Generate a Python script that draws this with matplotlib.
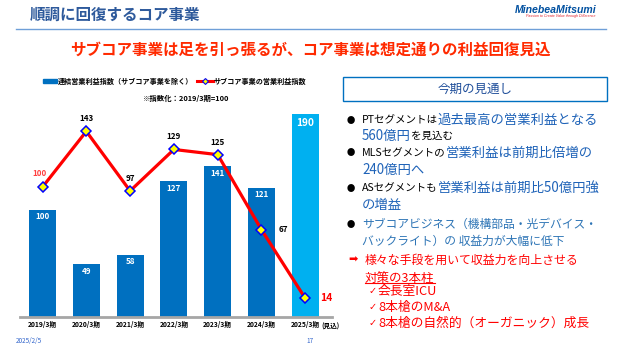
import matplotlib
matplotlib.use('Agg')
import matplotlib.pyplot as plt
from matplotlib.lines import Line2D
from matplotlib.patches import Rectangle

plt.rcParams['font.family'] = ['Noto Sans CJK JP', 'DejaVu Sans']

# ---------------- data ----------------
periods = ['2019/3期', '2020/3期', '2021/3期', '2022/3期', '2023/3期', '2024/3期', '2025/3期']
core_index = [100, 49, 58, 127, 141, 121, 190]        # 連結営業利益指数（サブコア事業を除く）
subcore_index = [100, 143, 97, 129, 125, 67, 14]       # サブコア事業の営業利益指数
forecast_note = '(見込)'
legend_labels = ['連結営業利益指数（サブコア事業を除く）', 'サブコア事業の営業利益指数']
index_note = '※指数化：2019/3期=100'

title = '順調に回復するコア事業'
subtitle = 'サブコア事業は足を引っ張るが、コア事業は想定通りの利益回復見込'
box_title = '今期の見通し'
footer_date = '2025/2/5'
page_no = '17'

# ---------------- figure ----------------
W, H = 622, 350
fig = plt.figure(figsize=(W / 100, H / 100), dpi=100)
fig.patch.set_facecolor('white')


def fx(x):
    return x / W


def fy(y):
    return 1 - y / H


# ---------------- chart ----------------
ax = fig.add_axes([fx(20), fy(316.5), fx(332) - fx(20), (316.5 - 100) / H])
xs = list(range(len(periods)))
bar_colors = ['#0070C0'] * (len(periods) - 1) + ['#00B0F0']
ax.bar(xs, core_index, width=0.62, color=bar_colors, zorder=2)
ax.set_xlim(-0.514, 6.61)
ax.set_ylim(0, 203.3)
for s in ['top', 'left', 'right']:
    ax.spines[s].set_visible(False)
ax.spines['bottom'].set_color('#A6A6A6')
ax.spines['bottom'].set_linewidth(2)
ax.set_yticks([])
ax.set_xticks(xs, periods, fontsize=4.8, fontweight='bold')
ax.tick_params(axis='x', length=0, pad=3.2)

for i, v in enumerate(core_index):
    last = i == len(core_index) - 1
    ax.annotate(str(v), xy=(i, v), xytext=(0, -6.5 if last else -5), textcoords='offset points',
                ha='center', va='center', color='white', fontweight='bold',
                fontsize=7.3 if last else 5.8, zorder=3)

ax.annotate(forecast_note, xy=(6, 0), xytext=(11.5, -7), textcoords='offset points',
            ha='left', va='center', fontsize=4.8, fontweight='bold', annotation_clip=False)

ax2 = ax.twinx()
ax2.set_ylim(0, 167.2)
ax2.set_yticks([])
for s in ax2.spines.values():
    s.set_visible(False)
ax2.plot(xs, subcore_index, color='#FF0000', lw=2.3, marker='D', ms=5,
         mfc='#FFFF00', mec='#0000FF', mew=1.1, zorder=4, clip_on=False)
for i, v in enumerate(subcore_index):
    if i == 0:
        ax2.annotate(str(v), xy=(i, v), xytext=(-2, 10), textcoords='offset points',
                     ha='center', va='center', fontsize=5.8, fontweight='bold', color='#FF4040')
    elif i < len(subcore_index) - 2:
        ax2.annotate(str(v), xy=(i, v), xytext=(0, 9), textcoords='offset points',
                     ha='center', va='center', fontsize=5.8, fontweight='bold', color='black')
    elif i == len(subcore_index) - 2:
        ax2.annotate(str(v), xy=(i, v), xytext=(12, 0), textcoords='offset points',
                     ha='left', va='center', fontsize=5.8, fontweight='bold', color='black')
    else:
        ax2.annotate(str(v), xy=(i, v), xytext=(11, 0), textcoords='offset points',
                     ha='left', va='center', fontsize=7.5, fontweight='bold', color='#FF0000',
                     annotation_clip=False)

# legend (manual)
fig.add_artist(Rectangle((fx(43), fy(83)), fx(56.7) - fx(43), 4 / H, transform=fig.transFigure,
                         color='#0070C0'))
fig.text(fx(57.5), fy(81), legend_labels[0], fontsize=5.1, fontweight='bold', va='center', ha='left')
fig.add_artist(Line2D([fx(197), fx(213)], [fy(81), fy(81)], transform=fig.transFigure,
                      color='#FF0000', lw=2.2))
fig.add_artist(Line2D([fx(205)], [fy(81)], transform=fig.transFigure, marker='D', ms=3,
                      mfc='#FFFF00', mec='#0000FF', mew=0.8, lw=0))
fig.text(fx(213.5), fy(81), legend_labels[1], fontsize=5.1, fontweight='bold', va='center', ha='left')
fig.text(fx(186.5), fy(98.5), index_note, fontsize=5.3, fontweight='bold', va='center', ha='center')

# ---------------- header ----------------
fig.text(fx(30), fy(15), title, fontsize=11.2, fontweight='bold', color='#2E5A9C', va='center', ha='left')
fig.add_artist(Line2D([fx(16), fx(606)], [fy(29), fy(29)], transform=fig.transFigure,
                      color='#6F9FD8', lw=1))
fig.text(fx(596), fy(10), 'MinebeaMitsumi', fontsize=7.6, fontweight='bold', style='italic',
         color='#0050A0', va='center', ha='right', family='Liberation Sans')
fig.text(fx(596), fy(16.5), 'Passion to Create Value through Difference', fontsize=2.6,
         color='#E0202A', va='center', ha='right', family='Liberation Sans', style='italic')
fig.text(fx(310.5), fy(50), subtitle, fontsize=11.2, fontweight='bold', color='#FF2A00',
         va='center', ha='center')

# ---------------- right panel ----------------
fig.add_artist(Rectangle((fx(343), fy(101)), fx(607) - fx(343), 24 / H, transform=fig.transFigure,
                         fill=False, edgecolor='#0070C0', lw=1))
fig.text(fx(475), fy(89), box_title, fontsize=9, color='#1F4E9A', va='center', ha='center')

renderer = fig.canvas.get_renderer()
BLUE = '#1F63B8'
BLUE2 = '#2E75B6'
RED = '#FF0000'


def seg_line(x0, y, segments):
    x = x0
    texts = []
    for text, size, color in segments:
        t = fig.text(fx(x), fy(y), text, fontsize=size, color=color, va='center', ha='left')
        bb = t.get_window_extent(renderer)
        x += bb.width
        texts.append(t)
    return texts


def bullet(y):
    fig.text(fx(351), fy(y), '●', fontsize=6, color='black', va='center', ha='center')


bullet(120)
seg_line(362, 120, [('PTセグメントは', 7.6, 'black'), ('過去最高の営業利益となる', 9.6, BLUE)])
seg_line(362, 136, [('560億円', 9.6, BLUE), ('を見込む', 7.6, 'black')])
bullet(153)
seg_line(362, 153, [('MLSセグメントの', 7.6, 'black'), ('営業利益は前期比倍増の', 9.6, BLUE)])
seg_line(362, 169.5, [('240億円へ', 9.6, BLUE)])
bullet(188)
seg_line(362, 188, [('ASセグメントも', 7.6, 'black'), ('営業利益は前期比50億円強', 9.6, BLUE)])
seg_line(362, 205, [('の増益', 9.6, BLUE)])
bullet(224)
seg_line(362, 224, [('サブコアビジネス（機構部品・光デバイス・', 8.5, BLUE2)])
seg_line(362, 241, [('バックライト）の 収益力が大幅に低下', 8.5, BLUE2)])

fig.text(fx(353), fy(260), '➡', fontsize=8, color=RED, va='center', ha='center',
         family=['DejaVu Sans'])
seg_line(365, 260, [('様々な手段を用いて収益力を向上させる', 8.6, RED)])
t = seg_line(365, 278, [('対策の3本柱', 9, RED)])[0]
bb = t.get_window_extent(renderer)
fig.add_artist(Line2D([bb.x0 / W, bb.x1 / W], [(bb.y0 + 1.5) / H, (bb.y0 + 1.5) / H],
                      transform=fig.transFigure, color=RED, lw=0.8))
for yy, txt in [(291, '会長室ICU'), (307, '8本槍のM&A'), (323, '8本槍の自然的（オーガニック）成長')]:
    fig.text(fx(373), fy(yy), '✓', fontsize=7, color=RED, va='center', ha='center',
             family=['DejaVu Sans'])
    seg_line(378, yy, [(txt, 9.2, RED)])

# ---------------- footer ----------------
fig.text(fx(16), fy(341), footer_date, fontsize=4.6, color='#3366CC', va='center', ha='left')
fig.text(fx(310), fy(341), page_no, fontsize=4.6, color='#3366CC', va='center', ha='center')

fig.savefig('out.png', dpi=100)
